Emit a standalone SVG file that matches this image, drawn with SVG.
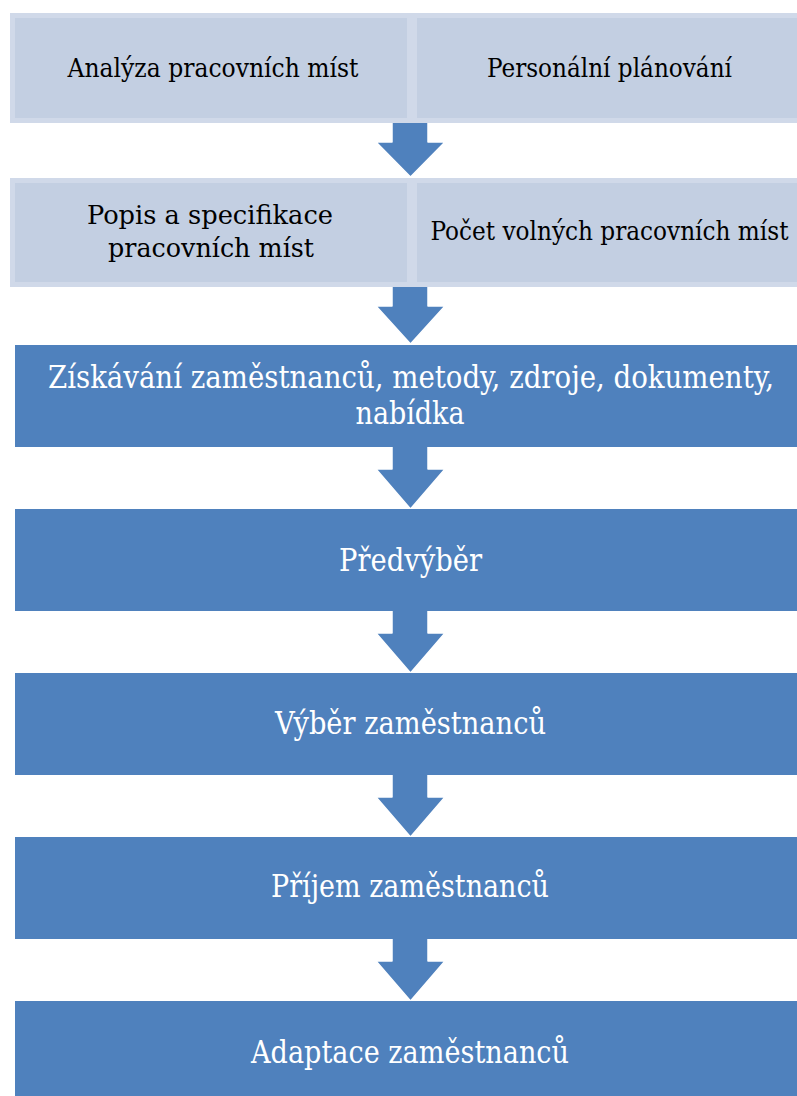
<svg xmlns="http://www.w3.org/2000/svg" width="797" height="1096" viewBox="0 0 797 1096">
<style>
.lb{fill:#d0d9e9}
.lf{fill:#c3cfe2}
.blue{fill:#4f81bd}
.arrow{fill:#4f81bd;stroke:#ffffff;stroke-width:1.5;stroke-linejoin:round}
text{font-family:'DejaVu Serif Condensed','DejaVu Serif','Liberation Serif',serif;font-stretch:condensed;text-anchor:middle}
.tl{font-size:26.5px;fill:#000000}
.tb{font-size:31.5px;fill:#ffffff}
</style>
<rect width="797" height="1096" fill="#ffffff"/>
<g id="connectors">
<path class="arrow" d="M392,121 L428,121 L428,142 L445,142 L410.5,177 L376,142 L392,142 Z"/>
<path class="arrow" d="M392,285 L428,285 L428,306 L445,306 L410.5,344 L376,306 L392,306 Z"/>
<path class="arrow" d="M392,446 L428,446 L428,469 L445,469 L410.5,509 L376,469 L392,469 Z"/>
<path class="arrow" d="M392,610 L428,610 L428,633 L445,633 L410.5,673 L376,633 L392,633 Z"/>
<path class="arrow" d="M392,774 L428,774 L428,797 L445,797 L410.5,837 L376,797 L392,797 Z"/>
<path class="arrow" d="M392,938 L428,938 L428,961 L445,961 L410.5,1001 L376,961 L392,961 Z"/>
</g>
<g id="node-analyza">
<rect class="lb" x="10" y="13" width="402" height="110"/>
<rect class="lf" x="15" y="18" width="392" height="100"/>
<text class="tl" x="213" y="77" textLength="291" lengthAdjust="spacingAndGlyphs">Analýza pracovních míst</text>
</g>
<g id="node-personalni">
<rect class="lb" x="412" y="13" width="385" height="110"/>
<rect class="lf" x="417" y="18" width="380" height="100"/>
<text class="tl" x="609.5" y="77" textLength="245" lengthAdjust="spacingAndGlyphs">Personální plánování</text>
</g>
<g id="node-popis">
<rect class="lb" x="10" y="178" width="402" height="109"/>
<rect class="lf" x="15" y="183" width="392" height="99"/>
<text class="tl" x="210" y="224" textLength="246" lengthAdjust="spacingAndGlyphs">Popis a specifikace</text>
<text class="tl" x="211" y="257" textLength="206" lengthAdjust="spacingAndGlyphs">pracovních míst</text>
</g>
<g id="node-pocet">
<rect class="lb" x="412" y="178" width="385" height="109"/>
<rect class="lf" x="417" y="183" width="380" height="99"/>
<text class="tl" x="609.5" y="240" textLength="358" lengthAdjust="spacingAndGlyphs">Počet volných pracovních míst</text>
</g>
<g id="node-ziskavani">
<rect class="blue" x="15" y="345" width="782" height="102"/>
<text class="tb" x="411" y="388" textLength="726" lengthAdjust="spacingAndGlyphs">Získávání zaměstnanců, metody, zdroje, dokumenty,</text>
<text class="tb" x="410" y="424" textLength="109" lengthAdjust="spacingAndGlyphs">nabídka</text>
</g>
<g id="node-predvyber">
<rect class="blue" x="15" y="509" width="782" height="102"/>
<text class="tb" x="410.5" y="571" textLength="143" lengthAdjust="spacingAndGlyphs">Předvýběr</text>
</g>
<g id="node-vyber">
<rect class="blue" x="15" y="673" width="782" height="102"/>
<text class="tb" x="410.5" y="734" textLength="271" lengthAdjust="spacingAndGlyphs">Výběr zaměstnanců</text>
</g>
<g id="node-prijem">
<rect class="blue" x="15" y="837" width="782" height="102"/>
<text class="tb" x="410" y="897" textLength="278" lengthAdjust="spacingAndGlyphs">Příjem zaměstnanců</text>
</g>
<g id="node-adaptace">
<rect class="blue" x="15" y="1001" width="782" height="95"/>
<text class="tb" x="410" y="1063" textLength="318" lengthAdjust="spacingAndGlyphs">Adaptace zaměstnanců</text>
</g>
</svg>
